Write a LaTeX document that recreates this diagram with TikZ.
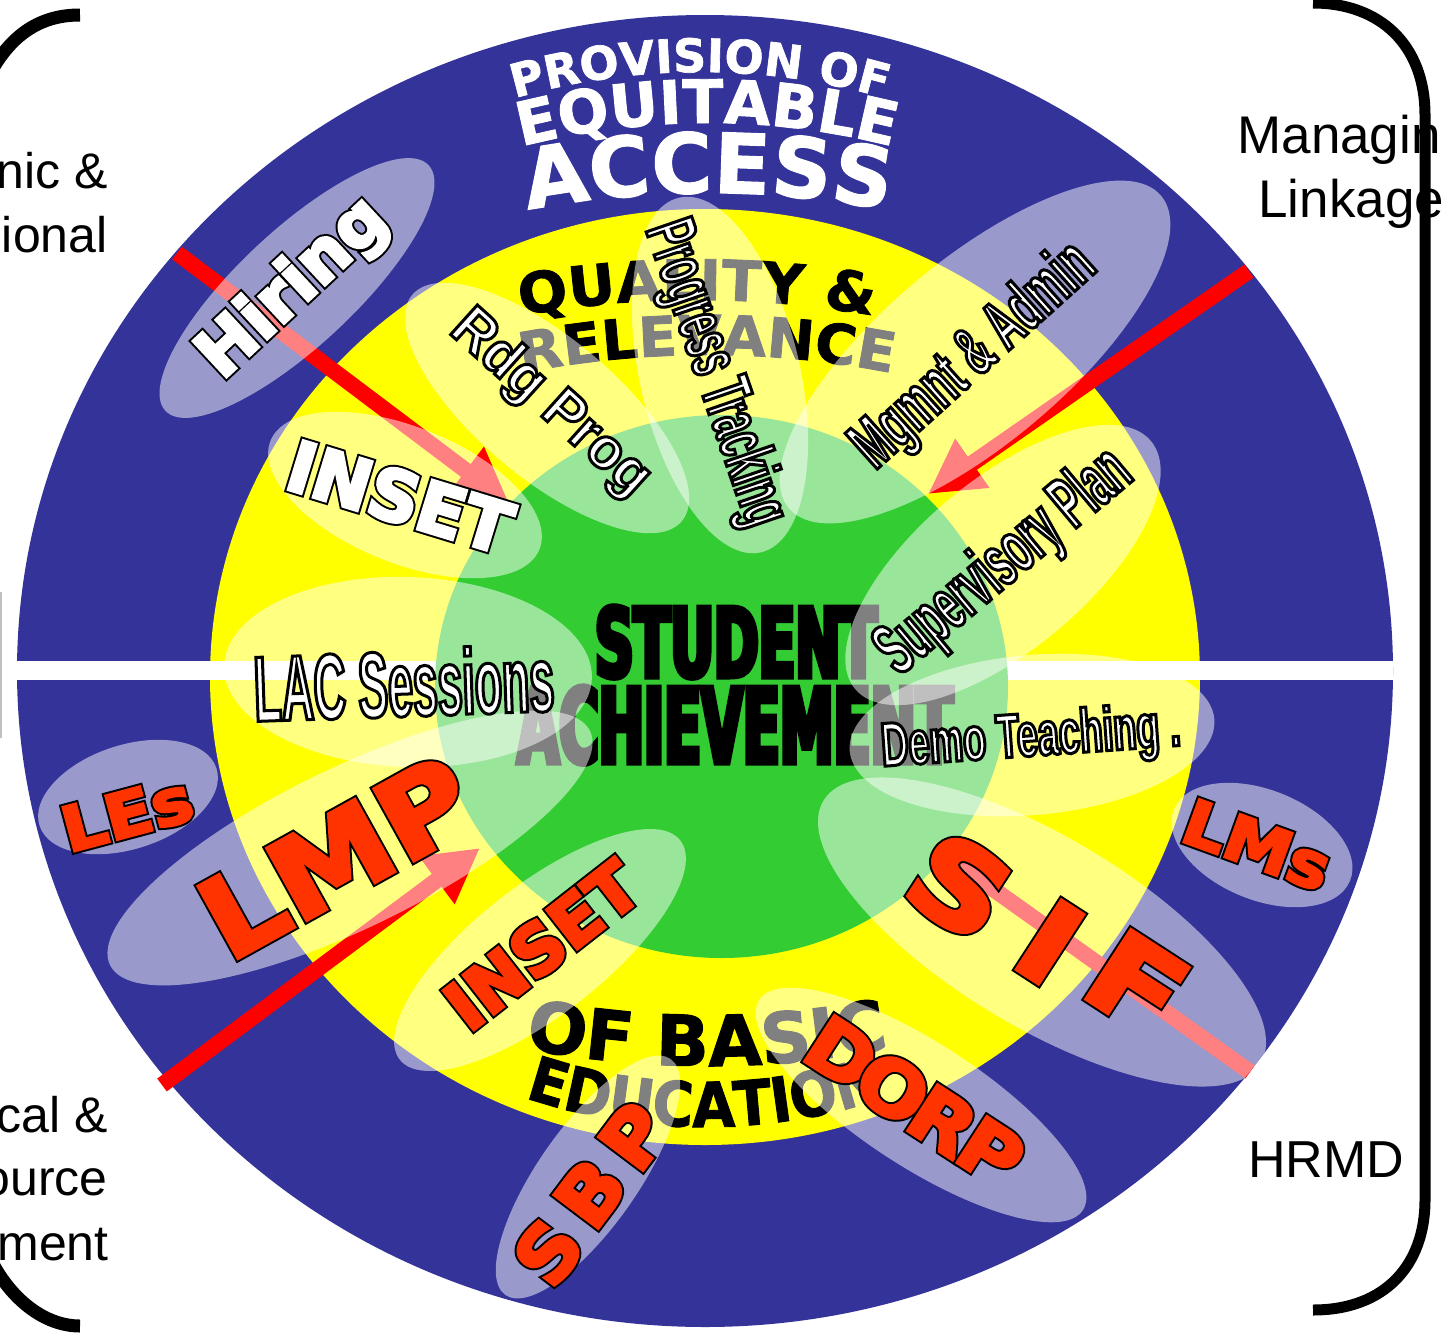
\documentclass[tikz,border=0pt]{standalone}
\usepackage{fontspec}
\usetikzlibrary{decorations.text,arrows.meta}
\newfontfamily\fReg{Liberation Sans}
\newfontfamily\fBlkFam{DejaVu Sans Bold}
\newfontfamily\fNarFam{Liberation Sans Bold}
\newcommand\fBlk[2]{\fBlkFam\fontsize{#1}{#1}\selectfont\addfontfeature{FakeStretch=#2}}
\newcommand\fBlkB[2]{\fBlkFam\fontsize{#1}{#1}\selectfont\addfontfeature{FakeStretch=#2,FakeBold=1.5}}
\newcommand\fNar[2]{\fNarFam\fontsize{#1}{#1}\selectfont\addfontfeature{FakeStretch=#2}}
% outlined text
\newcommand\olt[1]{\special{pdf:literal direct 2 Tr 0 0 0 RG 1.5 w}#1\special{pdf:literal direct 0 Tr}}
% heavy outlined text: #1 fill rgb, #2 inner stroke, #3 outer stroke, #4 text
\newcommand\hvy[4]{\rlap{\special{pdf:literal direct 2 Tr 0 0 0 RG #3 w}#4}\special{pdf:literal direct 2 Tr #1 RG #2 w}#4\special{pdf:literal direct 0 Tr}}
% emboldened text in given rgb
\newcommand\emb[3]{\special{pdf:literal direct 2 Tr #1 RG #2 w}#3\special{pdf:literal direct 0 Tr}}
\definecolor{cblue}{HTML}{333399}
\definecolor{cyel}{HTML}{FFFF00}
\definecolor{cgrn}{HTML}{33CC33}
\definecolor{cred}{HTML}{FF3300}
\definecolor{carr}{HTML}{FF0000}
\begin{document}
\begin{tikzpicture}[x=0.5pt,y=-0.5pt,
  wlbl/.style={text=white, inner sep=0pt},
  rlbl/.style={text=cred, inner sep=0pt},
  veil/.style={fill=white, fill opacity=0.5},
  arr/.style={draw=carr, line width=8pt, -{Triangle[length=27pt,width=28pt]}},
  shaft/.style={draw=carr, line width=8pt},
  brk/.style={line width=5.5pt, black},
  sideL/.style={font=\fReg\fontsize{25}{25}\selectfont, inner sep=0pt},
  sideR/.style={font=\fReg\fontsize{26.5}{26.5}\selectfont, inner sep=0pt},
  curv/.style={decorate, decoration={text along path, text align=center, text color=#1}}
]
\useasboundingbox (0,0) rectangle (1441,1333);

% side texts
\node[sideL, anchor=base east] (l1) at (108,188) {nic \&};
\node[sideL, anchor=base east] (l2) at (108,252) {ional};
\node[sideL, anchor=base east] (l3) at (108,1132) {cal \&};
\node[sideL, anchor=base east] (l4) at (108,1195) {ource};
\node[sideL, anchor=base east] (l5) at (109,1260) {ment};
\node[sideR, anchor=base west] (r1) at (1237,153) {Managin};
\node[sideR, anchor=base west] (r2) at (1258,217) {Linkage};
\node[sideR, anchor=base west, font=\fReg\fontsize{26}{26}\selectfont] (r3) at (1248,1177) {HRMD};

% brackets
\draw[brk] (1313,3) .. controls (1380,3) and (1425,45) .. (1425,115) -- (1425,1200)
   .. controls (1425,1265) and (1385,1310) .. (1313,1310);
\draw[brk, line width=6.5pt] (80,15) .. controls (45,15) and (15,30) .. (-8,70);
\draw[brk, line width=6.5pt] (-8,1262) .. controls (12,1300) and (45,1326) .. (80,1326);
\draw[black!25, line width=1.2pt] (1,592) -- (1,738);

% rings
\fill[cblue] (705,671) ellipse [x radius=688, y radius=656];
\fill[cyel] (705,677) ellipse [x radius=495, y radius=468];
\fill[white] (17,661) rectangle (1393,680);
\fill[cgrn] (721.5,686.5) ellipse [x radius=286.5, y radius=271.5];

% curved titles
\path[curv=white, decoration={text={|\fBlkB{23}{1}|PROVISION OF}}]
  ([shift={(250:668)}]700,740) arc[start angle=250, end angle=290, radius=668];
\path[curv=white, decoration={text={|\fBlkB{30}{1}|EQUITABLE}}]
  ([shift={(250:747)}]707,870) arc[start angle=250, end angle=290, radius=747];
\path[curv=white, decoration={text={|\fBlkB{41.5}{1}|ACCESS}}]
  ([shift={(256:961)}]708,1154) arc[start angle=256, end angle=284, radius=961];
\path[curv=black, decoration={text={|\fBlkB{28}{1.04}|QUALITY {\&}}}]
  ([shift={(258:1000)}]697,1300) arc[start angle=258, end angle=282, radius=1000];
\path[curv=black, decoration={text={|\fBlkB{27.5}{1.03}|RELEVANCE}}]
  ([shift={(257:960)}]707,1315) arc[start angle=257, end angle=283, radius=960];
\path[curv=black, decoration={text={|\fBlkB{35}{1}|OF BASIC}}]
  ([shift={(104:940)}]707,126) arc[start angle=104, end angle=76, radius=940];
\path[curv=black, decoration={text={|\fBlkB{31}{0.9}|EDUCATION}}]
  ([shift={(112:567)}]705,560) arc[start angle=112, end angle=68, radius=567];

\node[inner sep=0pt, anchor=base, font=\fBlk{48}{0.56}] (stu) at (736,677) {\emb{0 0 0}{2.5}{STUDENT}};
\node[inner sep=0pt, anchor=base, font=\fBlk{52}{0.52}] (ach) at (735,763) {\emb{0 0 0}{2.5}{ACHIEVEMENT}};

% arrows
\coordinate (a1s) at (177,253); \coordinate (a1e) at (509,503);
\coordinate (a2s) at (1249,271); \coordinate (a2e) at (928,494);
\coordinate (a3s) at (162,1085); \coordinate (a3e) at (480,848);
\coordinate (a4s) at (1250,1072); \coordinate (a4e) at (958,864);
\draw[arr] (a1s) -- (a1e);
\draw[arr] (a2s) -- (a2e);
\draw[arr] (a3s) -- (a3e);
\draw[shaft] (a4s) -- (a4e);

% veils
\begin{scope}
\clip (705,671) ellipse [x radius=688, y radius=656];
\fill[veil, rotate around={43:(297,288)}] (297,288) ellipse [x radius=180, y radius=58];
\fill[veil, rotate around={-22:(405,495)}] (405,495) ellipse [x radius=145, y radius=68];
\fill[veil, rotate around={-40:(547,408)}] (547,408) ellipse [x radius=176, y radius=70];
\fill[veil, rotate around={-77:(720,375)}] (720,375) ellipse [x radius=182, y radius=80];
\fill[veil, rotate around={40:(975,352)}] (975,352) ellipse [x radius=243, y radius=92];
\fill[veil, rotate around={40:(1003,565)}] (1003,565) ellipse [x radius=193, y radius=85];
\fill[veil, rotate around={-2:(408,672)}] (408,672) ellipse [x radius=184, y radius=95];
\fill[veil, rotate around={5:(1032,735)}] (1032,735) ellipse [x radius=183, y radius=80];
\fill[veil, rotate around={26:(350,848)}] (350,848) ellipse [x radius=267, y radius=80];
\fill[veil, rotate around={18:(128,797)}] (128,797) ellipse [x radius=93, y radius=52];
\fill[veil, rotate around={-22:(1262,845)}] (1262,845) ellipse [x radius=95, y radius=55];
\fill[veil, rotate around={38:(540,950)}] (540,950) ellipse [x radius=178, y radius=65];
\fill[veil, rotate around={-31:(1042,932)}] (1042,932) ellipse [x radius=255, y radius=95];
\fill[veil, rotate around={-33:(921,1105)}] (921,1105) ellipse [x radius=193, y radius=62];
\fill[veil, rotate around={55:(588,1177)}] (588,1177) ellipse [x radius=144, y radius=50];
\end{scope}

% labels
\node[wlbl, rotate=43, font=\fBlk{33.5}{1}] (hir) at (294,289) {\hvy{1 1 1}{1.6}{3.6}{Hiring}};
\node[wlbl, rotate=-17, font=\fBlk{35}{1}] (ins1) at (400,497) {\hvy{1 1 1}{1.6}{3.6}{INSET}};
\node[wlbl, rotate=-42, font=\fNar{29}{0.95}] (rdg) at (550,404) {\olt{Rdg Prog}};
\node[wlbl, rotate=-71, font=\fNar{35}{0.52}] (prg) at (714,374) {\olt{Progress Tracking}};
\node[wlbl, rotate=42, font=\fNar{35}{0.56}] (mgm) at (975,357) {\olt{Mgmnt \& Admin}};
\node[wlbl, rotate=40, font=\fNar{37}{0.51}] (sup) at (1005,563) {\olt{Supervisory Plan}};
\node[wlbl, rotate=2, font=\fNar{46.5}{0.48}] (lac) at (404,683) {\olt{LAC Sessions}};
\node[wlbl, rotate=4, font=\fNar{31}{0.61}] (demo) at (1031,740) {\olt{Demo Teaching .}};
\node[rlbl, rotate=29, font=\fBlk{56}{1.1}] (lmp) at (336,857) {\hvy{1 0.2 0}{2}{4}{LMP}};
\node[rlbl, rotate=15, font=\fBlk{31}{1.12}] (les) at (127,814) {\hvy{1 0.2 0}{1.4}{3.4}{LEs}};
\node[rlbl, rotate=-20, font=\fBlk{31}{1.1}] (lms) at (1257,845) {\hvy{1 0.2 0}{1.4}{3.4}{LMs}};
\node[rlbl, rotate=38, font=\fBlk{34}{1}] (ins2) at (542,945) {\hvy{1 0.2 0}{1.6}{3.6}{INSET}};
\node[rlbl, rotate=-33, font=\fBlk{56}{1.2}] (sifS) at (960,886) {\hvy{1 0.2 0}{2.2}{4.2}{S}};
\node[rlbl, rotate=-33, font=\fBlk{56}{1.2}] (sifI) at (1050,942) {\hvy{1 0.2 0}{2.2}{4.2}{I}};
\node[rlbl, rotate=-33, font=\fBlk{56}{1.2}] (sifF) at (1137,983) {\hvy{1 0.2 0}{2.2}{4.2}{F}};
\node[rlbl, rotate=-33, font=\fBlk{37.5}{1.1}] (dD) at (842,1053) {\hvy{1 0.2 0}{1.6}{3.6}{D}};
\node[rlbl, rotate=-33, font=\fBlk{37.5}{1.1}] (dO) at (893,1088) {\hvy{1 0.2 0}{1.6}{3.6}{O}};
\node[rlbl, rotate=-33, font=\fBlk{37.5}{1.1}] (dR) at (943,1121) {\hvy{1 0.2 0}{1.6}{3.6}{R}};
\node[rlbl, rotate=-33, font=\fBlk{37.5}{1.1}] (dP) at (991,1152) {\hvy{1 0.2 0}{1.6}{3.6}{P}};
\node[rlbl, rotate=53, font=\fBlk{38}{1.05}] (sS) at (548,1252) {\hvy{1 0.2 0}{1.6}{3.6}{S}};
\node[rlbl, rotate=53, font=\fBlk{38}{1.05}] (sB) at (590,1193) {\hvy{1 0.2 0}{1.6}{3.6}{B}};
\node[rlbl, rotate=53, font=\fBlk{38}{1.05}] (sP) at (634,1136) {\hvy{1 0.2 0}{1.6}{3.6}{P}};
\end{tikzpicture}
\end{document}
